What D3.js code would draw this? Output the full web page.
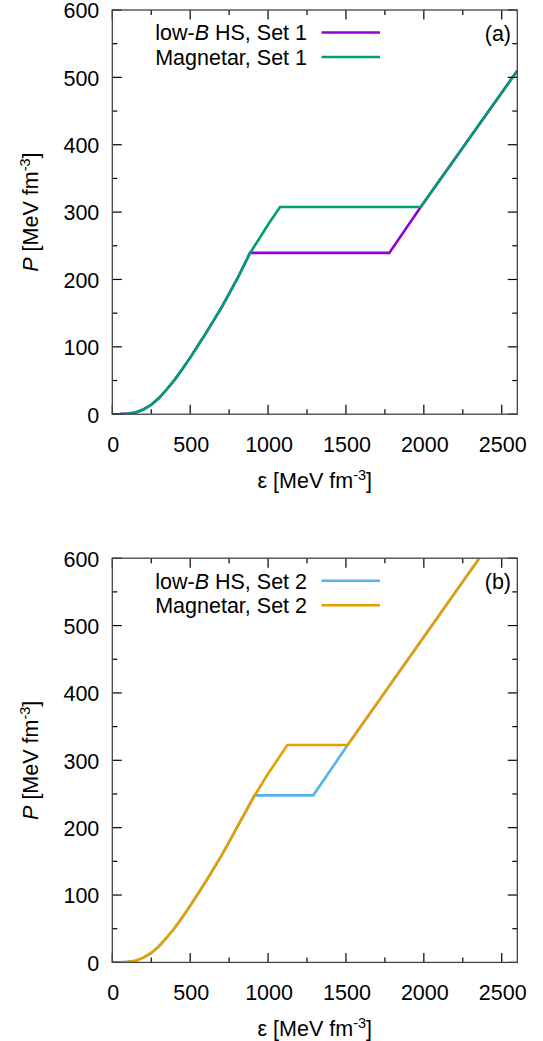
<!DOCTYPE html>
<html>
<head>
<meta charset="utf-8">
<script src="https://cdn.jsdelivr.net/npm/d3@7"></script>
<style>
body { margin: 0; background: #fff; }
svg { display: block; font-family: "Liberation Sans", Arial, sans-serif; }
</style>
</head>
<body>
<svg width="543" height="1041"></svg>
<script>
// ticks
var epsTicks = [0, 500, 1000, 1500, 2000, 2500];
var pTicks = [0, 100, 200, 300, 400, 500, 600];

// hadronic branch (same for every curve)
var hadronEps = [0, 50, 100, 150, 200, 250, 300, 350, 400, 450, 500, 550, 600, 650, 700, 750, 800];
var hadronP = [0, 0.2, 0.8, 2.5, 7, 14, 24, 37, 51, 67, 84, 102, 120, 139, 158, 179, 200];

// rest of each curve: transition + quark branch
var set1LowBEps = [884, 1778, 1980, 2600];
var set1LowBP = [239.4, 239.4, 307.6, 510];
var set1MagEps = [884, 950, 1010, 1077, 1980, 2600];
var set1MagP = [239, 263, 285, 307.6, 307.6, 510];

var set2LowBEps = [912, 1290, 1511, 2356];
var set2LowBP = [248, 248, 322.7, 600];
var set2MagEps = [912, 1000, 1124, 1511, 2356];
var set2MagP = [247, 280, 322.7, 322.7, 600];

var svg = d3.select("svg");
var fs = 21.5;

function toPoints(eps, p) {
    var pts = hadronEps.map(function (e, i) { return [e, hadronP[i]]; });
    eps.forEach(function (e, i) { pts.push([e, p[i]]); });
    return pts;
}

function drawPanel(top, tag, series) {
    var left = 112.3, right = 517.3, bottom = top + 404.2;

    var x = d3.scaleLinear().domain([0, 2600]).range([left, right]);
    var y = d3.scaleLinear().domain([0, 600]).range([bottom, top]);

    var g = svg.append("g");
    var clipId = "clip" + tag.replace(/\W/g, "");
    g.append("clipPath").attr("id", clipId)
        .append("rect")
        .attr("x", left).attr("y", top)
        .attr("width", right - left).attr("height", bottom - top);

    var line = d3.line()
        .x(function (d) { return x(d[0]); })
        .y(function (d) { return y(d[1]); });

    series.forEach(function (s) {
        g.append("path")
            .attr("clip-path", "url(#" + clipId + ")")
            .attr("d", line(toPoints(s.eps, s.p)))
            .attr("fill", "none")
            .attr("stroke", s.color)
            .attr("stroke-width", 2.6)
            .attr("stroke-linejoin", "miter");
    });

    // ticks, mirrored on all sides
    var minorX = d3.range(0, 2600, 250);
    var minorY = d3.range(0, 650, 50);
    minorX.forEach(function (v) {
        var len = v % 500 === 0 ? 9.5 : 5;
        g.append("line").attr("x1", x(v)).attr("x2", x(v)).attr("y1", bottom).attr("y2", bottom - len)
            .attr("stroke", "#000").attr("stroke-width", 1.2);
        g.append("line").attr("x1", x(v)).attr("x2", x(v)).attr("y1", top).attr("y2", top + len)
            .attr("stroke", "#000").attr("stroke-width", 1.2);
    });
    minorY.forEach(function (v) {
        var len = v % 100 === 0 ? 9.5 : 5;
        g.append("line").attr("y1", y(v)).attr("y2", y(v)).attr("x1", left).attr("x2", left + len)
            .attr("stroke", "#000").attr("stroke-width", 1.2);
        g.append("line").attr("y1", y(v)).attr("y2", y(v)).attr("x1", right).attr("x2", right - len)
            .attr("stroke", "#000").attr("stroke-width", 1.2);
    });

    // frame
    g.append("rect")
        .attr("x", left).attr("y", top)
        .attr("width", right - left).attr("height", bottom - top)
        .attr("fill", "none").attr("stroke", "#444").attr("stroke-width", 1.3);

    // tick labels
    g.selectAll(".xl").data(epsTicks).enter().append("text")
        .attr("x", function (d) { return x(d) + 1; })
        .attr("y", bottom + 37.5)
        .attr("text-anchor", "middle")
        .attr("font-size", fs)
        .text(function (d) { return d; });
    g.selectAll(".yl").data(pTicks).enter().append("text")
        .attr("x", left - 13)
        .attr("y", function (d) { return y(d) + 8.3; })
        .attr("text-anchor", "end")
        .attr("font-size", fs)
        .text(function (d) { return d; });

    // x title
    var xt = g.append("text")
        .attr("x", (left + right) / 2)
        .attr("y", bottom + 74)
        .attr("text-anchor", "middle")
        .attr("font-size", fs);
    xt.append("tspan").text("ε [MeV fm");
    xt.append("tspan").attr("font-size", 14.5).attr("dy", -8).text("-3");
    xt.append("tspan").attr("dy", 8).text("]");

    // y title
    var yt = g.append("text")
        .attr("transform", "translate(38," + (top + bottom) / 2 + ") rotate(-90)")
        .attr("text-anchor", "middle")
        .attr("font-size", fs);
    yt.append("tspan").attr("font-style", "italic").text("P");
    yt.append("tspan").text(" [MeV fm");
    yt.append("tspan").attr("font-size", 14.5).attr("dy", -8).text("-3");
    yt.append("tspan").attr("dy", 8).text("]");

    // panel tag
    g.append("text")
        .attr("x", 511).attr("y", top + 31)
        .attr("text-anchor", "end")
        .attr("font-size", fs)
        .text(tag);

    // legend
    series.forEach(function (s, i) {
        var ly = top + 22.5 + i * 24.5;
        var t = g.append("text")
            .attr("x", 307).attr("y", ly + 7.8)
            .attr("text-anchor", "end")
            .attr("font-size", fs);
        s.label.forEach(function (part) {
            var ts = t.append("tspan").text(part[0]);
            if (part[1]) ts.attr("font-style", "italic");
        });
        g.append("line")
            .attr("x1", 321.5).attr("x2", 380)
            .attr("y1", ly).attr("y2", ly)
            .attr("stroke", s.color).attr("stroke-width", 2.6);
    });
}

drawPanel(10, "(a)", [
    { eps: set1LowBEps, p: set1LowBP, color: "#9400d3",
      label: [["low-"], ["B", true], [" HS, Set 1"]] },
    { eps: set1MagEps, p: set1MagP, color: "#009e73",
      label: [["Magnetar, Set 1"]] }
]);

drawPanel(558.2, "(b)", [
    { eps: set2LowBEps, p: set2LowBP, color: "#56b4e9",
      label: [["low-"], ["B", true], [" HS, Set 2"]] },
    { eps: set2MagEps, p: set2MagP, color: "#e69f00",
      label: [["Magnetar, Set 2"]] }
]);
</script>
</body>
</html>
